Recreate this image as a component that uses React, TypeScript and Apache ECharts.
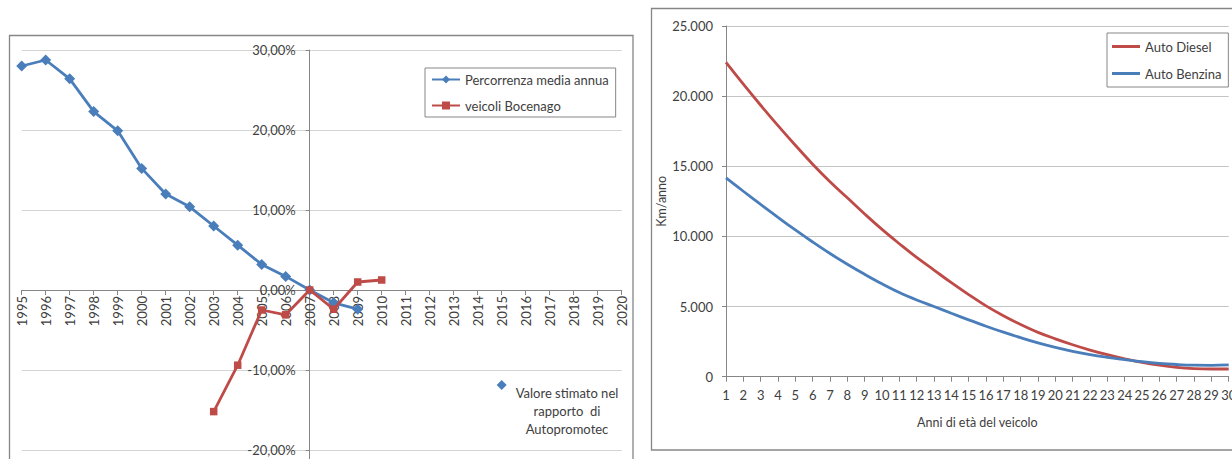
import React, { useEffect, useRef } from "react";
import * as echarts from "echarts";

// ---- Left chart data ----
const years = [
  "1995", "1996", "1997", "1998", "1999", "2000", "2001", "2002", "2003",
  "2004", "2005", "2006", "2007", "2008", "2009", "2010", "2011", "2012",
  "2013", "2014", "2015", "2016", "2017", "2018", "2019", "2020",
];
const percorrenza = [28.0, 28.75, 26.4, 22.3, 19.9, 15.2, 12.0, 10.4, 8.0, 5.6, 3.2, 1.7, 0, -1.6, -2.4];
const bocenago = [null, null, null, null, null, null, null, null, -15.2, -9.4, -2.5, -3.1, 0, -2.4, 1.0, 1.25];

// ---- Right chart data ----
const eta = [
  "1", "2", "3", "4", "5", "6", "7", "8", "9", "10", "11", "12", "13", "14", "15",
  "16", "17", "18", "19", "20", "21", "22", "23", "24", "25", "26", "27", "28", "29", "30",
];
const diesel = [
  22400, 20850, 19350, 17900, 16500, 15150, 13900, 12750, 11600, 10500,
  9480, 8500, 7600, 6700, 5850, 5050, 4350, 3720, 3160, 2700,
  2280, 1900, 1570, 1280, 1020, 820, 670, 580, 550, 550,
];
const benzina = [
  14180, 13220, 12280, 11360, 10460, 9600, 8780, 8020, 7300, 6620,
  6000, 5470, 5000, 4520, 4050, 3600, 3180, 2780, 2410, 2090,
  1810, 1570, 1380, 1220, 1070, 950, 870, 820, 810, 840,
];

const FONT = "Lato, 'Open Sans', sans-serif";
const TXT = "#404040";
const BLUE = "#4A7EBB";
const RED = "#BE4B48";
const AXIS = "#868686";
const LINE_ICON = "path://M0,0 L28,0 L28,3 L0,3 Z";

export default function App() {
  const ref = useRef<HTMLDivElement>(null);
  useEffect(() => {
    if (!ref.current) return;
    const chart = echarts.init(ref.current, undefined, { renderer: "svg" });
    const labelStyle = { fontFamily: FONT, fontSize: 13, color: TXT };
    chart.setOption({
      animation: false,
      backgroundColor: "#ffffff",
      textStyle: { fontFamily: FONT },
      grid: [
        { left: 21.7, top: 50, width: 600, height: 480, outerBoundsMode: "none", containLabel: false },
        { left: 726, top: 26, width: 502.7, height: 350.7, outerBoundsMode: "none", containLabel: false },
      ],
      xAxis: [
        {
          type: "category",
          gridIndex: 0,
          data: years,
          boundaryGap: false,
          position: "bottom",
          offset: -240,
          axisLine: { show: true, onZero: false, lineStyle: { color: AXIS, width: 1 } },
          axisTick: { show: true, length: 5, interval: 0, lineStyle: { color: AXIS } },
          axisLabel: { ...labelStyle, rotate: 90, interval: 0, margin: 6 },
          splitLine: { show: false },
        },
        {
          type: "category",
          gridIndex: 1,
          data: eta,
          boundaryGap: false,
          name: "Anni di età del veicolo",
          nameLocation: "middle",
          nameGap: 39,
          nameTextStyle: { fontFamily: FONT, fontSize: 12.5, color: TXT },
          axisLine: { show: true, lineStyle: { color: AXIS, width: 1 } },
          axisTick: { show: true, length: 5, interval: 0, lineStyle: { color: AXIS } },
          axisLabel: { ...labelStyle, interval: 0, margin: 12 },
          splitLine: { show: false },
        },
      ],
      yAxis: [
        {
          type: "value",
          gridIndex: 0,
          min: -30,
          max: 30,
          interval: 10,
          offset: -288,
          axisLine: { show: true, onZero: false, lineStyle: { color: AXIS, width: 1 } },
          axisTick: { show: true, length: 4, lineStyle: { color: AXIS } },
          axisLabel: {
            ...labelStyle,
            margin: 14,
            formatter: (v: number) => v.toFixed(2).replace(".", ",") + "%",
          },
          splitLine: { show: true, lineStyle: { color: "#d4d4d4", width: 1 } },
        },
        {
          type: "value",
          gridIndex: 1,
          min: 0,
          max: 25000,
          interval: 5000,
          name: "Km/anno",
          nameLocation: "middle",
          nameGap: 55,
          nameTextStyle: { fontFamily: FONT, fontSize: 12.5, color: TXT },
          axisLine: { show: true, lineStyle: { color: AXIS, width: 1 } },
          axisTick: { show: true, length: 4, lineStyle: { color: AXIS } },
          axisLabel: {
            ...labelStyle,
            margin: 13,
            formatter: (v: number) => (v === 0 ? "0" : (v / 1000).toFixed(3)),
          },
          splitLine: { show: true, lineStyle: { color: "#c4c4c4", width: 1 } },
        },
      ],
      legend: [
        {
          orient: "vertical",
          left: 425,
          top: 68,
          data: ["Percorrenza media annua", "veicoli Bocenago"],
          borderColor: AXIS,
          borderWidth: 1,
          padding: [5, 7, 5, 6],
          itemWidth: 28,
          itemHeight: 10,
          itemGap: 13,
          textStyle: { fontFamily: FONT, fontSize: 13, color: TXT },
        },
        {
          orient: "vertical",
          left: 1107,
          top: 33,
          data: [
            { name: "Auto Diesel", icon: LINE_ICON },
            { name: "Auto Benzina", icon: LINE_ICON },
          ],
          borderColor: AXIS,
          borderWidth: 1,
          padding: [7, 7, 7, 5],
          itemWidth: 28,
          itemHeight: 3,
          itemGap: 14,
          textStyle: { fontFamily: FONT, fontSize: 13, color: TXT },
        },
      ],
      graphic: [
        {
          type: "rect",
          shape: { x: 9.5, y: 35.5, width: 623.5, height: 520 },
          style: { fill: "none", stroke: AXIS, lineWidth: 1.3 },
          silent: true,
        },
        {
          type: "rect",
          shape: { x: 651.5, y: 8.5, width: 640, height: 441.5 },
          style: { fill: "none", stroke: AXIS, lineWidth: 1.3 },
          silent: true,
        },
        {
          type: "polygon",
          shape: { points: [[501.7, 380], [506.7, 385], [501.7, 390], [496.7, 385]] },
          style: { fill: BLUE },
          silent: true,
        },
        {
          type: "text",
          x: 567,
          y: 384,
          style: {
            text: "Valore stimato nel\nrapporto  di\nAutopromotec",
            align: "center",
            verticalAlign: "top",
            lineHeight: 18,
            fontFamily: FONT,
            fontSize: 13,
            fill: TXT,
          },
          silent: true,
        },
      ],
      series: [
        {
          name: "Percorrenza media annua",
          type: "line",
          xAxisIndex: 0,
          yAxisIndex: 0,
          data: percorrenza,
          symbol: "diamond",
          symbolSize: 11,
          lineStyle: { color: BLUE, width: 2.8 },
          itemStyle: { color: BLUE },
          z: 3,
        },
        {
          name: "veicoli Bocenago",
          type: "line",
          xAxisIndex: 0,
          yAxisIndex: 0,
          data: bocenago,
          symbol: "rect",
          symbolSize: 7.5,
          lineStyle: { color: RED, width: 2.8 },
          itemStyle: { color: RED },
          z: 4,
        },
        {
          name: "Auto Diesel",
          type: "line",
          xAxisIndex: 1,
          yAxisIndex: 1,
          data: diesel,
          symbol: "none",
          smooth: 0.4,
          lineStyle: { color: RED, width: 2.8 },
          itemStyle: { color: RED },
        },
        {
          name: "Auto Benzina",
          type: "line",
          xAxisIndex: 1,
          yAxisIndex: 1,
          data: benzina,
          symbol: "none",
          smooth: 0.4,
          lineStyle: { color: BLUE, width: 2.8 },
          itemStyle: { color: BLUE },
        },
      ],
    });
    return () => chart.dispose();
  }, []);
  return (
    <div
      ref={ref}
      style={{ position: "absolute", left: 0, top: 0, width: 1232, height: 459 }}
    />
  );
}
